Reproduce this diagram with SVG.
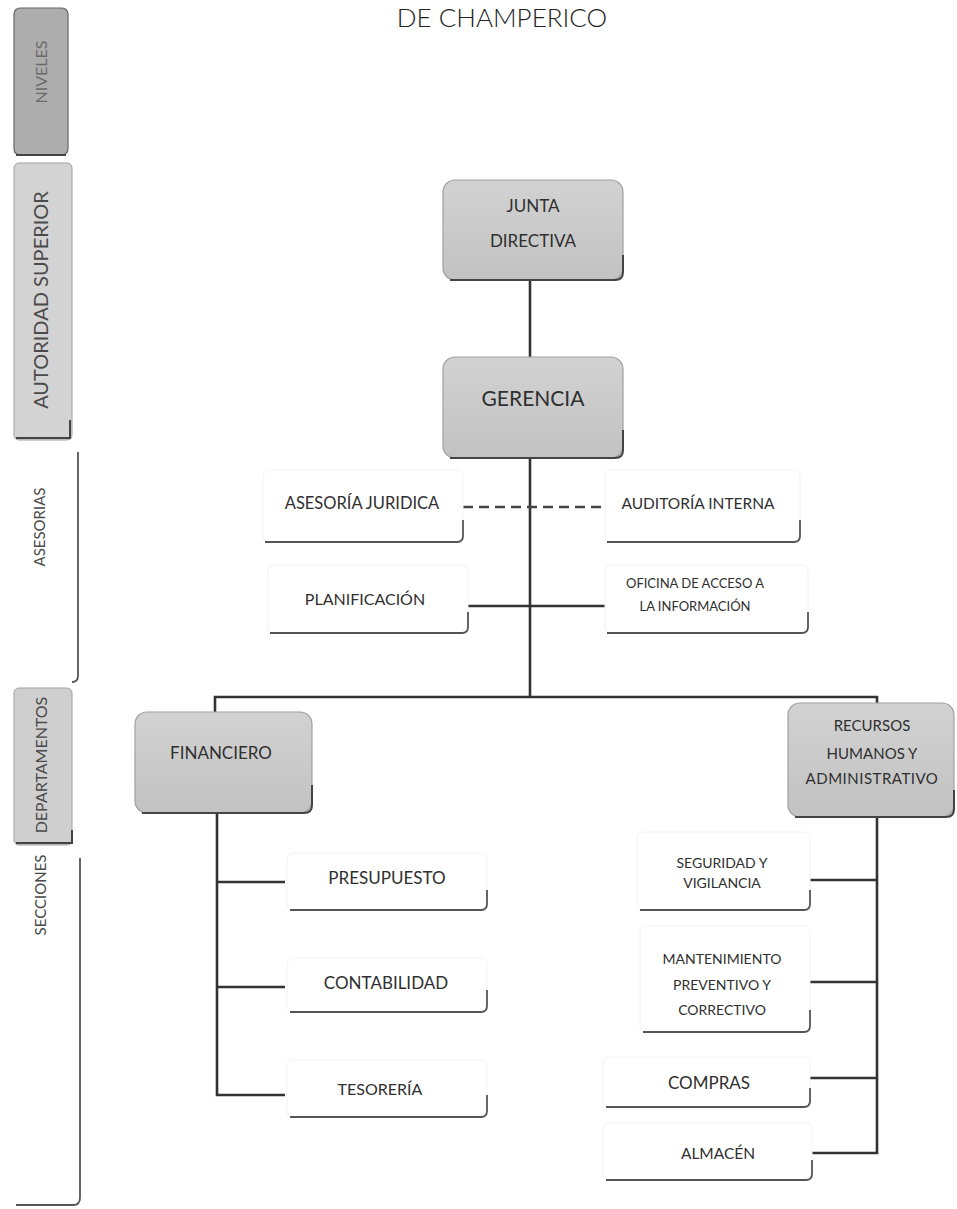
<svg xmlns="http://www.w3.org/2000/svg" width="957" height="1209" viewBox="0 0 957 1209">
<defs>
<linearGradient id="gr" x1="0" y1="0" x2="0" y2="1">
<stop offset="0" stop-color="#d2d2d2"/>
<stop offset="1" stop-color="#c2c2c2"/>
</linearGradient>
<style>
text{font-family:Lato,"Open Sans","Liberation Sans",sans-serif;fill:#2f2f2f;text-anchor:middle;dominant-baseline:central}
.gray{fill:url(#gr);stroke:#a0a0a0;stroke-width:1.2}
.gedge{fill:none;stroke:#444;stroke-width:2}
.white{fill:#fff;stroke:#f2f2f2;stroke-width:1}
.wedge{fill:none;stroke:#555;stroke-width:1.8}
.con{fill:none;stroke:#333;stroke-width:2.6}
.dash{fill:none;stroke:#444;stroke-width:2.6;stroke-dasharray:10 6}
.side{font-size:15px;fill:#4a4a4a}
</style>
</defs>
<rect width="957" height="1209" fill="#fff"/>
<text id="title" x="502" y="17" style="font-size:26px;font-weight:300;fill:#222">DE CHAMPERICO</text>

<g id="sidebar">
<g id="s-niveles">
<rect x="14" y="8" width="54" height="147" rx="6" fill="#adadad" stroke="#666" stroke-width="1.2"/>
<path d="M16 155 H66" class="gedge"/>
<text class="side" transform="translate(40 72) rotate(-90)" style="font-size:16px;fill:#6a6a6a">NIVELES</text>
</g>
<g id="s-autoridad">
<rect x="14" y="163" width="58" height="277" rx="5" fill="#d3d3d3" stroke="#a0a0a0" stroke-width="1"/>
<path d="M70 420 V438 H16" class="gedge" stroke-width="1.4"/>
<text class="side" transform="translate(40 300) rotate(-90)" style="font-size:20px">AUTORIDAD SUPERIOR</text>
</g>
<g id="s-asesorias">
<path d="M78 452 V676 Q78 682 72 682" class="wedge" stroke="#999" stroke-width="1.2"/>
<text class="side" transform="translate(39 527) rotate(-90)">ASESORIAS</text>
</g>
<g id="s-departamentos">
<rect x="14" y="688" width="58" height="157" rx="5" fill="#cfcfcf" stroke="#a0a0a0" stroke-width="1"/>
<path d="M72 830 V843 H16" class="gedge" stroke-width="1.4"/>
<text class="side" transform="translate(40 765) rotate(-90)" style="font-size:16px">DEPARTAMENTOS</text>
</g>
<g id="s-secciones">
<path d="M80 858 V1198 Q80 1205 73 1205 H16" class="wedge" stroke="#888" stroke-width="1.4"/>
<text class="side" transform="translate(40 895) rotate(-90)">SECCIONES</text>
</g>
</g>

<g id="connectors">
<path class="con" d="M530 280 V357"/>
<path class="con" d="M530 458 V697"/>
<path class="dash" d="M463 507 H605"/>
<path class="con" d="M468 606 H605"/>
<path class="con" d="M215 712 V697 H877 V703"/>
<path class="con" d="M217 813 V1095 H285"/>
<path class="con" d="M217 882 H285"/>
<path class="con" d="M217 987 H285"/>
<path class="con" d="M877 817 V1153 H812"/>
<path class="con" d="M810 880 H877"/>
<path class="con" d="M810 982 H877"/>
<path class="con" d="M810 1078 H877"/>
</g>

<g id="junta">
<rect x="443" y="180" width="180" height="100" rx="12" class="gray"/>
<path d="M450 280 H615 Q623 280 623 272 V255" class="gedge"/>
<text x="533" y="205" style="font-size:17px">JUNTA</text>
<text x="533" y="240" style="font-size:17px">DIRECTIVA</text>
</g>
<g id="gerencia">
<rect x="443" y="357" width="180" height="101" rx="12" class="gray"/>
<path d="M450 458 H615 Q623 458 623 450 V430" class="gedge"/>
<text x="533" y="397" style="font-size:21px">GERENCIA</text>
</g>

<g id="asesoria-juridica">
<rect x="263" y="470" width="200" height="72" rx="6" class="white"/>
<path class="wedge" d="M265 542 H457 Q463 542 463 536 V520"/>
<text x="362" y="503" style="font-size:16.5px">ASESORÍA JURIDICA</text>
</g>
<g id="auditoria-interna">
<rect x="605" y="470" width="195" height="72" rx="6" class="white"/>
<path class="wedge" d="M607 542 H794 Q800 542 800 536 V520"/>
<text x="698" y="503" style="font-size:15.5px">AUDITORÍA INTERNA</text>
</g>
<g id="planificacion">
<rect x="268" y="565" width="200" height="68" rx="6" class="white"/>
<path class="wedge" d="M270 633 H462 Q468 633 468 627 V612"/>
<text x="365" y="598" style="font-size:16px">PLANIFICACIÓN</text>
</g>
<g id="oficina-acceso">
<rect x="605" y="565" width="203" height="68" rx="6" class="white"/>
<path class="wedge" d="M607 633 H802 Q808 633 808 627 V612"/>
<text x="695" y="583" style="font-size:13px">OFICINA DE  ACCESO A</text>
<text x="695" y="606" style="font-size:13px">LA INFORMACIÓN</text>
</g>

<g id="financiero">
<rect x="135" y="712" width="177" height="101" rx="12" class="gray"/>
<path d="M142 813 H304 Q312 813 312 805 V785" class="gedge"/>
<text x="221" y="752" style="font-size:17px">FINANCIERO</text>
</g>
<g id="rrhh">
<rect x="788" y="703" width="166" height="114" rx="12" class="gray"/>
<path d="M795 817 H946 Q954 817 954 809 V790" class="gedge"/>
<text x="872" y="725" style="font-size:15px">RECURSOS</text>
<text x="872" y="753" style="font-size:15px">HUMANOS Y</text>
<text x="872" y="778" style="font-size:15px;letter-spacing:0.5px">ADMINISTRATIVO</text>
</g>

<g id="presupuesto">
<rect x="287" y="853" width="200" height="57" rx="6" class="white"/>
<path class="wedge" d="M290 910 H481 Q487 910 487 904 V890"/>
<text x="387" y="877" style="font-size:17px">PRESUPUESTO</text>
</g>
<g id="contabilidad">
<rect x="287" y="958" width="200" height="54" rx="6" class="white"/>
<path class="wedge" d="M290 1012 H481 Q487 1012 487 1006 V990"/>
<text x="386" y="982" style="font-size:17px">CONTABILIDAD</text>
</g>
<g id="tesoreria">
<rect x="287" y="1060" width="200" height="57" rx="6" class="white"/>
<path class="wedge" d="M290 1117 H481 Q487 1117 487 1111 V1095"/>
<text x="380" y="1088" style="font-size:16px">TESORERÍA</text>
</g>

<g id="seguridad">
<rect x="637" y="832" width="173" height="78" rx="6" class="white"/>
<path class="wedge" d="M640 910 H804 Q810 910 810 904 V890"/>
<text x="722" y="862" style="font-size:14px">SEGURIDAD Y</text>
<text x="722" y="882" style="font-size:14px">VIGILANCIA</text>
</g>
<g id="mantenimiento">
<rect x="640" y="926" width="170" height="106" rx="6" class="white"/>
<path class="wedge" d="M643 1032 H804 Q810 1032 810 1026 V1010"/>
<text x="722" y="958" style="font-size:14px">MANTENIMIENTO</text>
<text x="722" y="984" style="font-size:14px">PREVENTIVO Y</text>
<text x="722" y="1009" style="font-size:14px">CORRECTIVO</text>
</g>
<g id="compras">
<rect x="603" y="1057" width="207" height="50" rx="6" class="white"/>
<path class="wedge" d="M606 1107 H804 Q810 1107 810 1101 V1088"/>
<text x="709" y="1082" style="font-size:17px">COMPRAS</text>
</g>
<g id="almacen">
<rect x="603" y="1123" width="209" height="57" rx="6" class="white"/>
<path class="wedge" d="M606 1180 H806 Q812 1180 812 1174 V1160"/>
<text x="718" y="1153" style="font-size:15.5px">ALMACÉN</text>
</g>
</svg>
